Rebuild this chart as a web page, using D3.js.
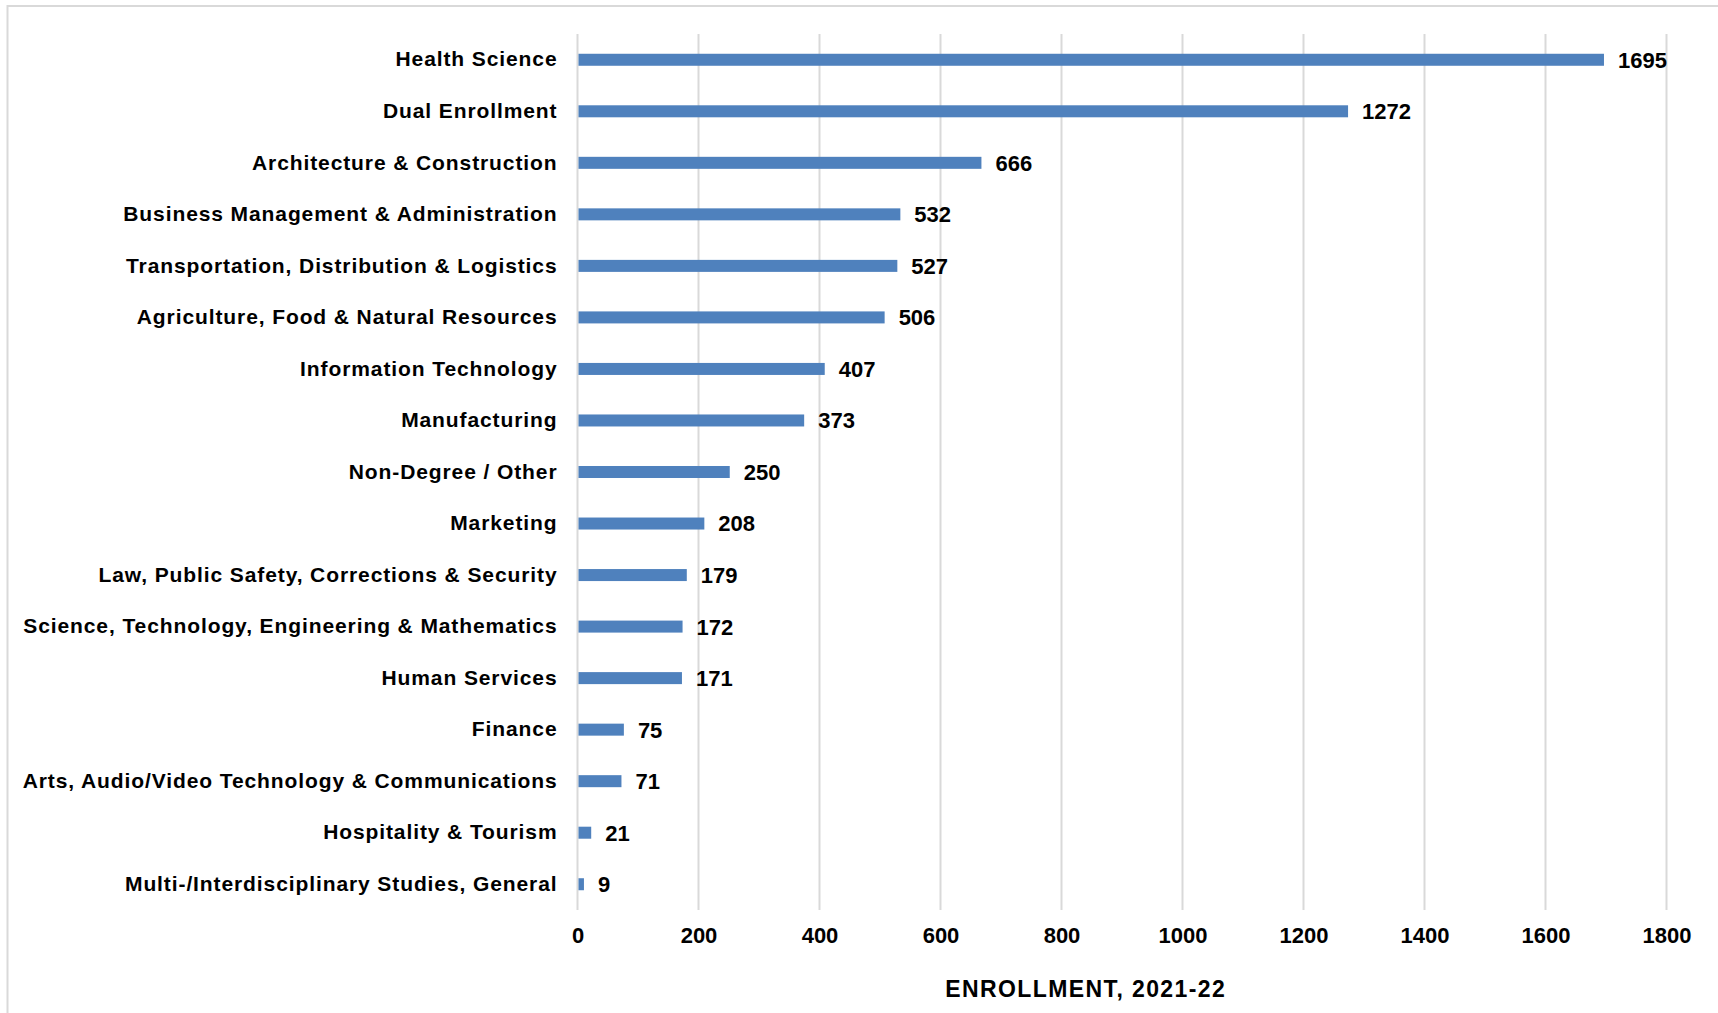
<!DOCTYPE html>
<html>
<head>
<meta charset="utf-8">
<script src="https://cdn.jsdelivr.net/npm/d3@7"></script>
<style>
  body { margin: 0; background: #ffffff; }
  text { font-family: "Liberation Sans", Arial, sans-serif; font-weight: bold; fill: #000; }
</style>
</head>
<body>
<div id="chart"></div>
<script>
// categories top to bottom, with enrollment numbers
var categories = [
  "Health Science",
  "Dual Enrollment",
  "Architecture & Construction",
  "Business Management & Administration",
  "Transportation, Distribution & Logistics",
  "Agriculture, Food & Natural Resources",
  "Information Technology",
  "Manufacturing",
  "Non-Degree / Other",
  "Marketing",
  "Law, Public Safety, Corrections & Security",
  "Science, Technology, Engineering & Mathematics",
  "Human Services",
  "Finance",
  "Arts, Audio/Video Technology & Communications",
  "Hospitality & Tourism",
  "Multi-/Interdisciplinary Studies, General"
]

var enrollment = [1695, 1272, 666, 532, 527, 506, 407, 373, 250, 208, 179, 172, 171, 75, 71, 21, 9]

var xTicks = [0, 200, 400, 600, 800, 1000, 1200, 1400, 1600, 1800]

var axisTitle = "ENROLLMENT, 2021-22"

//dimensions
var screen = {width: 1718, height: 1013}
var margins = {top: 34, bottom: 103, left: 577.5, right: 51.5}

var width = screen.width - margins.left - margins.right
var height = screen.height - margins.top - margins.bottom

var rows = categories.map(function(c, i) { return {name: c, value: enrollment[i]} })

//scales
var xScale = d3.scaleLinear()
    .domain([0, 1800])
    .range([0, width])

var yScale = d3.scaleBand()
    .domain(categories)
    .range([0, height])
    .paddingInner(0.767)
    .paddingOuter(0.3835)

var svg = d3.select("#chart")
    .append("svg")
    .attr("width", screen.width)
    .attr("height", screen.height)

// light frame round the chart area
svg.append("rect")
    .attr("x", 7.5)
    .attr("y", 6)
    .attr("width", 1800)
    .attr("height", 1100)
    .attr("fill", "none")
    .attr("stroke", "#d9d9d9")
    .attr("stroke-width", 2)

var plot = svg.append("g")
    .attr("transform", "translate(" + margins.left + "," + margins.top + ")")

//gridlines
plot.selectAll("line.grid")
    .data(xTicks)
    .enter()
    .append("line")
    .attr("class", "grid")
    .attr("x1", function(d) { return xScale(d) })
    .attr("x2", function(d) { return xScale(d) })
    .attr("y1", 0)
    .attr("y2", height)
    .attr("stroke", "#d9d9d9")
    .attr("stroke-width", 2)

//x axis labels
var xAxis = d3.axisBottom(xScale)
    .tickValues(xTicks)
    .tickSize(0)
    .tickPadding(17)
    .tickFormat(d3.format("d"))

var xg = plot.append("g")
    .attr("transform", "translate(0," + height + ")")
    .call(xAxis)
xg.select(".domain").remove()
xg.selectAll("text")
    .style("font-size", "22px")
    .style("font-family", "'Liberation Sans', Arial, sans-serif")
    .style("font-weight", "bold")
    .attr("fill", "#000")

//y axis labels
var yAxis = d3.axisLeft(yScale)
    .tickSize(0)
    .tickPadding(20)

var yg = plot.append("g").call(yAxis)
yg.select(".domain").remove()
yg.selectAll("text")
    .style("font-size", "21px")
    .style("font-family", "'Liberation Sans', Arial, sans-serif")
    .style("font-weight", "bold")
    .style("letter-spacing", "0.9px")
    .attr("fill", "#000")

//bars
plot.selectAll("rect.bar")
    .data(rows)
    .enter()
    .append("rect")
    .attr("class", "bar")
    .attr("x", xScale(0) + 1)
    .attr("y", function(d) { return yScale(d.name) })
    .attr("width", function(d) { return Math.max(xScale(d.value) - xScale(0), 1) })
    .attr("height", yScale.bandwidth())
    .attr("fill", "#4f81bd")

//value labels
plot.selectAll("text.val")
    .data(rows)
    .enter()
    .append("text")
    .attr("class", "val")
    .attr("x", function(d) { return xScale(d.value) + 15 })
    .attr("y", function(d) { return yScale(d.name) + yScale.bandwidth() / 2 })
    .attr("dy", "0.36em")
    .style("font-size", "22px")
    .text(function(d) { return d.value })

//axis title
plot.append("text")
    .attr("x", xScale(840))
    .attr("y", height + 87)
    .attr("text-anchor", "middle")
    .style("font-size", "23px")
    .style("letter-spacing", "1.4px")
    .text(axisTitle)
</script>
</body>
</html>
